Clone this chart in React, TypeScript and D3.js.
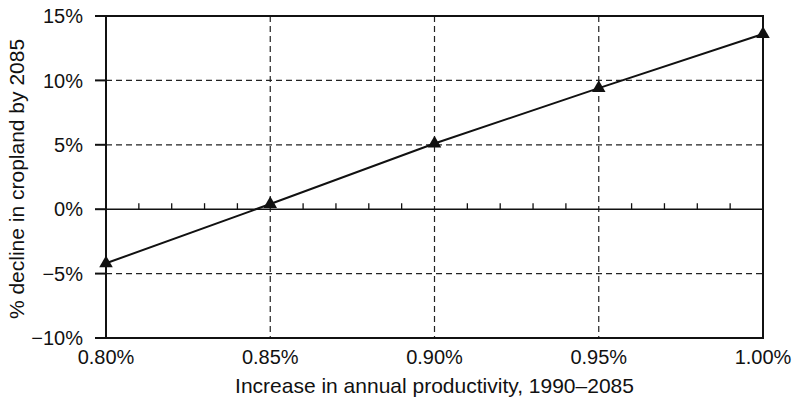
import React from 'react';
import * as d3 from 'd3';

const productivity = [0.8, 0.85, 0.9, 0.95, 1.0];
const decline = [-4.2, 0.4, 5.1, 9.4, 13.6];
const yTicks = [-10, -5, 0, 5, 10, 15];
const xTicks = [0.8, 0.85, 0.9, 0.95, 1.0];
const minorTicks = [0.81, 0.82, 0.83, 0.84, 0.86, 0.87, 0.88, 0.89, 0.91, 0.92, 0.93, 0.94, 0.96, 0.97, 0.98, 0.99];

const W = 793;
const H = 401;
const margin = { top: 16, right: 30, bottom: 63, left: 106 };
const font = '"Liberation Sans", Arial, sans-serif';

export default function App() {
  const x = d3.scaleLinear().domain([0.8, 1.0]).range([margin.left, W - margin.right]);
  const y = d3.scaleLinear().domain([-10, 15]).range([H - margin.bottom, margin.top]);

  const pts = productivity.map((p, i) => [x(p), y(decline[i])] as [number, number]);
  const line = d3.line()(pts) || '';
  const tri = d3.symbol().type(d3.symbolTriangle).size(80)() || '';

  const [x0, x1] = x.range();
  const [y0, y1] = y.range();

  return (
    <svg width={W} height={H} style={{ position: 'absolute', left: 0, top: 0 }}>
      <rect width={W} height={H} fill="#fff" />
      {/* dashed grid */}
      {yTicks.filter(t => t !== 0 && t !== 15 && t !== -10).map(t => (
        <line key={'gy' + t} x1={x0} x2={x1} y1={y(t)} y2={y(t)} stroke="#222" strokeWidth={1.2} strokeDasharray="6,4" />
      ))}
      {xTicks.slice(1, -1).map(t => (
        <line key={'gx' + t} x1={x(t)} x2={x(t)} y1={y1} y2={y0} stroke="#222" strokeWidth={1.2} strokeDasharray="6,4" />
      ))}
      {/* zero line with minor ticks */}
      <line x1={x0} x2={x1} y1={y(0)} y2={y(0)} stroke="#111" strokeWidth={1.5} />
      {minorTicks.map(t => (
        <line key={'m' + t} x1={x(t)} x2={x(t)} y1={y(0)} y2={y(0) - 6} stroke="#111" strokeWidth={1.3} />
      ))}
      {/* frame */}
      <rect x={x0} y={y1} width={x1 - x0} height={y0 - y1} fill="none" stroke="#111" strokeWidth={2} />
      {/* y ticks */}
      {yTicks.map(t => (
        <g key={'yt' + t}>
          <line x1={x0 - 11} x2={x0} y1={y(t)} y2={y(t)} stroke="#111" strokeWidth={2} />
          <text x={x0 - 23} y={y(t)} dy="0.36em" textAnchor="end" fontFamily={font} fontSize={20} fill="#111">
            {t < 0 ? '\u2212' + Math.abs(t) : t}%
          </text>
        </g>
      ))}
      {/* x tick labels */}
      {xTicks.map(t => (
        <text key={'xt' + t} x={x(t)} y={y0 + 26} textAnchor="middle" fontFamily={font} fontSize={20} fill="#111">
          {t.toFixed(2)}%
        </text>
      ))}
      {/* data line */}
      <path d={line} fill="none" stroke="#111" strokeWidth={2} />
      {pts.map((p, i) => (
        <path key={'p' + i} d={tri} transform={`translate(${p[0]},${p[1]})`} fill="#111" />
      ))}
      {/* axis titles */}
      <text x={(x0 + x1) / 2} y={H - 8} textAnchor="middle" fontFamily={font} fontSize={21} fill="#111">
        Increase in annual productivity, 1990–2085
      </text>
      <text transform={`translate(24,${(y0 + y1) / 2 + 2}) rotate(-90)`} textAnchor="middle" fontFamily={font} fontSize={21} fill="#111">
        % decline in cropland by 2085
      </text>
    </svg>
  );
}
